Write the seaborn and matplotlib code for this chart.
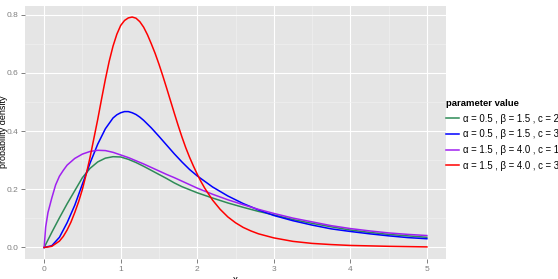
import pandas as pd
import numpy as np
import matplotlib
matplotlib.use('Agg')
import matplotlib.pyplot as plt
import seaborn as sns

# values
x_green = [0, 0.1, 0.2, 0.3, 0.4, 0.5, 0.6, 0.7, 0.8, 0.9, 1.0, 1.1, 1.2, 1.3, 1.4, 1.5, 1.6, 1.7, 1.8,
           2.0, 2.2, 2.4, 2.6, 2.8, 3.0, 3.25, 3.5, 3.75, 4.0, 4.25, 4.5, 4.75, 5.0]
y_green = [0, 0.052, 0.102, 0.150, 0.195, 0.240, 0.272, 0.294, 0.307, 0.312, 0.311, 0.303, 0.292, 0.279,
           0.265, 0.251, 0.237, 0.222, 0.209, 0.188, 0.170, 0.153, 0.138, 0.124, 0.112, 0.096, 0.083,
           0.071, 0.060, 0.052, 0.045, 0.040, 0.035]

x_blue = [0, 0.1, 0.2, 0.3, 0.4, 0.5, 0.6, 0.7, 0.8, 0.9, 0.95, 1.0, 1.05, 1.1, 1.15, 1.2, 1.25, 1.3,
          1.4, 1.5, 1.6, 1.7, 1.8, 1.9, 2.0, 2.2, 2.4, 2.6, 2.8, 3.0, 3.25, 3.5, 3.75, 4.0, 4.25, 4.5,
          4.75, 5.0]
y_blue = [0, 0.006, 0.035, 0.085, 0.145, 0.218, 0.290, 0.355, 0.408, 0.445, 0.456, 0.463, 0.467, 0.467,
          0.463, 0.457, 0.448, 0.437, 0.411, 0.382, 0.352, 0.322, 0.294, 0.268, 0.246, 0.208, 0.177,
          0.151, 0.129, 0.110, 0.092, 0.077, 0.064, 0.055, 0.047, 0.040, 0.034, 0.030]

x_purple = [0, 0.02, 0.05, 0.1, 0.15, 0.2, 0.25, 0.3, 0.4, 0.5, 0.6, 0.7, 0.8, 0.9, 1.0, 1.1, 1.2, 1.3,
            1.4, 1.5, 1.6, 1.7, 1.8, 2.0, 2.2, 2.4, 2.6, 2.8, 3.0, 3.25, 3.5, 3.75, 4.0, 4.25, 4.5, 4.75, 5.0]
y_purple = [0, 0.070, 0.120, 0.170, 0.215, 0.245, 0.265, 0.283, 0.306, 0.321, 0.330, 0.334, 0.333, 0.327,
            0.318, 0.309, 0.298, 0.287, 0.275, 0.263, 0.251, 0.240, 0.228, 0.204, 0.183, 0.164, 0.147,
            0.131, 0.117, 0.101, 0.088, 0.075, 0.065, 0.057, 0.050, 0.045, 0.041]

x_red = [0, 0.1, 0.2, 0.25, 0.3, 0.35, 0.4, 0.45, 0.5, 0.55, 0.6, 0.65, 0.7, 0.75, 0.8, 0.85, 0.9, 0.95,
         1.0, 1.05, 1.1, 1.15, 1.2, 1.25, 1.3, 1.35, 1.4, 1.45, 1.5, 1.55, 1.6, 1.65, 1.7, 1.75, 1.8,
         1.85, 1.9, 1.95, 2.0, 2.05, 2.1, 2.2, 2.3, 2.4, 2.5, 2.6, 2.7, 2.8, 3.0, 3.25, 3.5, 3.75, 4.0,
         4.5, 5.0]
y_red = [0, 0.004, 0.022, 0.038, 0.060, 0.087, 0.120, 0.157, 0.200, 0.252, 0.310, 0.375, 0.440, 0.510,
         0.578, 0.640, 0.692, 0.733, 0.763, 0.780, 0.789, 0.792, 0.788, 0.776, 0.757, 0.731, 0.700,
         0.667, 0.630, 0.590, 0.548, 0.505, 0.462, 0.420, 0.380, 0.343, 0.310, 0.280, 0.252, 0.226,
         0.203, 0.163, 0.131, 0.105, 0.085, 0.069, 0.057, 0.047, 0.033, 0.021, 0.014, 0.010, 0.007,
         0.004, 0.002]

labels = ['α = 0.5 , β = 1.5 , c = 2.0',
          'α = 0.5 , β = 1.5 , c = 3.0',
          'α = 1.5 , β = 4.0 , c = 1.5',
          'α = 1.5 , β = 4.0 , c = 3.5']
colors = ['#2E8B57', '#0000FF', '#A020F0', '#FF0000']

frames = []
for lab, xs, ys in zip(labels, [x_green, x_blue, x_purple, x_red], [y_green, y_blue, y_purple, y_red]):
    frames.append(pd.DataFrame({'x': xs, 'density': ys, 'parameter value': lab}))
df = pd.concat(frames, ignore_index=True)

plt.rcParams['font.family'] = ['Liberation Sans', 'DejaVu Sans']

fig = plt.figure(figsize=(5.58, 2.79), dpi=100)
ax = fig.add_axes([25/558, 20/279, 421/558, 253.5/279])
ax.set_facecolor('#E5E5E5')

sns.lineplot(data=df, x='x', y='density', hue='parameter value', hue_order=labels,
             palette=dict(zip(labels, colors)), linewidth=1.1, ax=ax)
for ln in ax.get_lines():
    ln.set_solid_joinstyle('round')

ax.set_xlim(-0.25, 5.25)
ax.set_ylim(-0.0396, 0.8316)
ax.set_xticks([0, 1, 2, 3, 4, 5])
ax.set_xticklabels(['0', '1', '2', '3', '4', '5'])
ax.set_yticks([0, 0.2, 0.4, 0.6, 0.8])
ax.set_yticklabels(['0.0', '0.2', '0.4', '0.6', '0.8'])
ax.set_xticks([0.5, 1.5, 2.5, 3.5, 4.5], minor=True)
ax.set_yticks([0.1, 0.3, 0.5, 0.7], minor=True)
ax.grid(True, which='major', color='white', linewidth=0.8)
ax.grid(True, which='minor', color='#F2F2F2', linewidth=0.4)
ax.set_axisbelow(True)
ax.tick_params(which='major', length=3, width=0.7, color='#7F7F7F', labelcolor='#7F7F7F',
               labelsize=6.0, pad=2.0)
ax.tick_params(which='minor', length=0)
for s in ax.spines.values():
    s.set_visible(False)

ax.set_xlabel('')
ax.set_ylabel('')
fig.text(3.8/558, 1 - 132/279, 'probability density', fontsize=6.5, rotation=90,
         ha='center', va='center')
fig.text(235.5/558, 4/279, 'x', fontsize=7, ha='center', va='top')

handles, labs = ax.get_legend_handles_labels()
ax.legend(handles, labs, loc='upper left', bbox_to_anchor=(442/558, 1 - 95/279),
          bbox_transform=fig.transFigure, frameon=False, fontsize=6.9,
          title='parameter value', title_fontproperties={'weight': 'bold', 'size': 6.8},
          alignment='left', handlelength=1.4, handletextpad=0.4, labelspacing=0.6,
          borderaxespad=0)

fig.savefig('out.png', dpi=100)
